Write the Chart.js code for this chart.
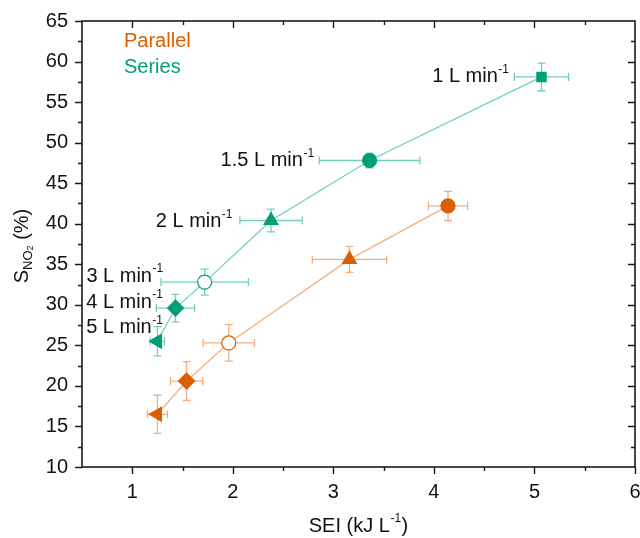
<!DOCTYPE html>
<html>
<head>
<meta charset="utf-8">
<script src="https://cdn.jsdelivr.net/npm/chart.js@4/dist/chart.umd.min.js"></script>
<style>
html,body{margin:0;padding:0;background:#fff;}
#wrap{width:640px;height:538px;position:relative;}
</style>
</head>
<body>
<div id="wrap"><canvas id="c" width="640" height="538"></canvas></div>
<script>
// ---- data ----
const flowLabels = ['1 L min', '1.5 L min', '2 L min', '3 L min', '4 L min', '5 L min'];
const seriesSEI    = [5.07, 3.36, 2.38, 1.72, 1.43, 1.25];
const seriesSEIErr = [0.27, 0.50, 0.31, 0.435, 0.19, 0.07];
const seriesS      = [58.1, 47.8, 40.4, 32.8, 29.6, 25.5];
const seriesSErr   = [1.7, 0.9, 1.4, 1.6, 1.7, 1.8];
// parallel: flows 1.5 ... 5 L/min
const parallelSEI    = [4.14, 3.16, 1.96, 1.54, 1.25];
const parallelSEIErr = [0.195, 0.37, 0.255, 0.16, 0.10];
const parallelS      = [42.2, 35.6, 25.3, 20.6, 16.5];
const parallelSErr   = [1.8, 1.6, 2.25, 2.4, 2.35];
const xTicks = [1, 2, 3, 4, 5, 6];

// ---- styles ----
const GREEN = '#00a077', GREEN_L = 'rgba(0,170,125,0.55)';
const ORANGE = '#d95f02', ORANGE_L = 'rgba(230,110,30,0.55)';
const seriesStyles = ['rect', 'circle', 'triangle', 'circle', 'rectRot', 'triangle'];
const seriesRot = [0, 0, 0, 0, 0, -90];
const seriesFill = [GREEN, GREEN, GREEN, '#ffffff', GREEN, GREEN];
const seriesRad = [6.5, 7, 8, 7, 8, 8];
const parStyles = ['circle', 'triangle', 'circle', 'rectRot', 'triangle'];
const parRot = [0, 0, 0, 0, -90];
const parFill = [ORANGE, ORANGE, '#ffffff', ORANGE, ORANGE];
const parRad = [7, 8, 7, 8, 8];
// label placement offsets (px) relative to series points: [dx to right edge, dy]
const labelOffsets = [[-33, 0], [-56, 0], [-39, 1], [-42, -6], [-13, -6], [5, -14]];

const FONT = "'Liberation Sans', Arial, sans-serif";

function pts(xs, ys) { return xs.map((x, i) => ({x: x, y: ys[i]})); }

const errPlugin = {
  id: 'err',
  beforeDatasetsDraw(chart) {
    const ctx = chart.ctx, xs = chart.scales.x, ys = chart.scales.y;
    const sets = [
      [parallelSEI, parallelS, parallelSEIErr, parallelSErr, ORANGE_L],
      [seriesSEI, seriesS, seriesSEIErr, seriesSErr, GREEN_L]
    ];
    const cap = 4;
    ctx.save();
    ctx.lineWidth = 1.3;
    sets.forEach(([X, Y, EX, EY, col]) => {
      ctx.strokeStyle = col;
      X.forEach((x, i) => {
        const px = xs.getPixelForValue(x), py = ys.getPixelForValue(Y[i]);
        const xl = xs.getPixelForValue(x - EX[i]), xr = xs.getPixelForValue(x + EX[i]);
        const yt = ys.getPixelForValue(Y[i] + EY[i]), yb = ys.getPixelForValue(Y[i] - EY[i]);
        ctx.beginPath();
        ctx.moveTo(xl, py); ctx.lineTo(xr, py);
        ctx.moveTo(xl, py - cap); ctx.lineTo(xl, py + cap);
        ctx.moveTo(xr, py - cap); ctx.lineTo(xr, py + cap);
        ctx.moveTo(px, yt); ctx.lineTo(px, yb);
        ctx.moveTo(px - cap, yt); ctx.lineTo(px + cap, yt);
        ctx.moveTo(px - cap, yb); ctx.lineTo(px + cap, yb);
        ctx.stroke();
      });
    });
    ctx.restore();
  }
};

function drawSup(ctx, base, sup, xRight, yMid, size) {
  ctx.font = size + 'px ' + FONT;
  const wb = ctx.measureText(base).width;
  ctx.font = Math.round(size * 0.6) + 'px ' + FONT;
  const ws = ctx.measureText(sup).width;
  const x0 = xRight - wb - ws;
  ctx.textBaseline = 'middle';
  ctx.textAlign = 'left';
  ctx.font = size + 'px ' + FONT;
  ctx.fillText(base, x0, yMid);
  ctx.font = Math.round(size * 0.6) + 'px ' + FONT;
  ctx.fillText(sup, x0 + wb + 0.5, yMid - size * 0.35);
}

const framePlugin = {
  id: 'frame',
  afterDraw(chart) {
    const ctx = chart.ctx, a = chart.chartArea, xs = chart.scales.x, ys = chart.scales.y;
    ctx.save();
    ctx.strokeStyle = '#1a1a1a';
    ctx.lineWidth = 1.6;
    ctx.strokeRect(a.left, a.top, a.right - a.left, a.bottom - a.top);
    const MAJ = 7, MIN = 4;
    ctx.lineWidth = 1.4;
    ctx.beginPath();
    for (let v = 0.5; v <= 6.0001; v += 0.5) {
      const px = Math.round(xs.getPixelForValue(v)) + 0.5;
      const major = Math.abs(v - Math.round(v)) < 1e-6;
      const L = major ? MAJ : MIN;
      if (v > 0.5 + 1e-6 && v < 6 - 1e-6) {
        ctx.moveTo(px, a.bottom); ctx.lineTo(px, a.bottom + L);
        ctx.moveTo(px, a.top); ctx.lineTo(px, a.top + L);
      } else if (v >= 6 - 1e-6) {
        ctx.moveTo(px, a.bottom); ctx.lineTo(px, a.bottom + L);
      }
    }
    for (let v = 10; v <= 65.0001; v += 2.5) {
      const py = Math.round(ys.getPixelForValue(v)) + 0.5;
      const major = Math.abs(v / 5 - Math.round(v / 5)) < 1e-6;
      const L = major ? MAJ : MIN;
      ctx.moveTo(a.left, py); ctx.lineTo(a.left - L, py);
      if (v > 10 + 1e-6 && v < 65 - 1e-6) {
        ctx.moveTo(a.right, py); ctx.lineTo(a.right - L, py);
      }
    }
    ctx.stroke();

    // flow labels
    ctx.fillStyle = '#111';
    flowLabels.forEach((t, i) => {
      const cx = xs.getPixelForValue(seriesSEI[i]);
      const py = ys.getPixelForValue(seriesS[i]);
      drawSup(ctx, t, '-1', cx + labelOffsets[i][0], py + labelOffsets[i][1], 20);
    });

    // legend text
    ctx.font = '20px ' + FONT;
    ctx.textAlign = 'left';
    ctx.textBaseline = 'middle';
    ctx.fillStyle = ORANGE;
    ctx.fillText('Parallel', a.left + 42, a.top + 20);
    ctx.fillStyle = GREEN;
    ctx.fillText('Series', a.left + 42, a.top + 46);

    // x title
    ctx.fillStyle = '#111';
    const xt1 = 'SEI (kJ L', xt2 = '-1', xt3 = ')';
    ctx.font = '20px ' + FONT;
    const w1 = ctx.measureText(xt1).width, w3 = ctx.measureText(xt3).width;
    ctx.font = '12px ' + FONT;
    const w2 = ctx.measureText(xt2).width;
    let x0 = (a.left + a.right) / 2 - (w1 + w2 + w3 + 1) / 2;
    const yT = 526;
    ctx.font = '20px ' + FONT; ctx.fillText(xt1, x0, yT);
    ctx.font = '12px ' + FONT; ctx.fillText(xt2, x0 + w1 + 0.5, yT - 7);
    ctx.font = '20px ' + FONT; ctx.fillText(xt3, x0 + w1 + w2 + 1, yT);

    // y title (rotated)
    ctx.save();
    ctx.translate(22, (a.top + a.bottom) / 2 + 2);
    ctx.rotate(-Math.PI / 2);
    const parts = [['S', 20, 0], ['NO', 13, 6], ['2', 9, 9], [' (%)', 20, 0]];
    let tot = 0;
    parts.forEach(p => { ctx.font = p[1] + 'px ' + FONT; tot += ctx.measureText(p[0]).width; });
    let cx = -tot / 2;
    ctx.textBaseline = 'middle';
    parts.forEach(p => {
      ctx.font = p[1] + 'px ' + FONT;
      ctx.fillText(p[0], cx, p[2]);
      cx += ctx.measureText(p[0]).width;
    });
    ctx.restore();
    ctx.restore();
  }
};

new Chart(document.getElementById('c'), {
  type: 'scatter',
  data: {
    datasets: [
      {
        label: 'Parallel',
        data: pts(parallelSEI, parallelS),
        showLine: true,
        borderColor: ORANGE_L,
        borderWidth: 1.3,
        pointStyle: parStyles,
        rotation: parRot,
        pointRadius: parRad,
        pointBackgroundColor: parFill,
        pointBorderColor: ORANGE,
        pointBorderWidth: 1.2
      },
      {
        label: 'Series',
        data: pts(seriesSEI, seriesS),
        showLine: true,
        borderColor: GREEN_L,
        borderWidth: 1.3,
        pointStyle: seriesStyles,
        rotation: seriesRot,
        pointRadius: seriesRad,
        pointBackgroundColor: seriesFill,
        pointBorderColor: GREEN,
        pointBorderWidth: 1.2
      }
    ]
  },
  options: {
    responsive: false,
    animation: false,
    events: [],
    layout: { autoPadding: false, padding: { top: 21, right: 5, left: 0, bottom: 0 } },
    plugins: { legend: { display: false }, tooltip: { enabled: false } },
    scales: {
      x: {
        type: 'linear', min: 0.5, max: 6,
        grid: { display: false, drawTicks: false },
        border: { display: false },
        afterBuildTicks: s => { s.ticks = xTicks.map(v => ({value: v})); },
        afterFit: s => { s.height = 71; s.paddingRight = 0; s.paddingLeft = 0; },
        ticks: { color: '#111', font: { family: FONT, size: 20 }, padding: 13, maxRotation: 0 }
      },
      y: {
        type: 'linear', min: 10, max: 65,
        grid: { display: false, drawTicks: false },
        border: { display: false },
        afterFit: s => { s.width = 82; s.paddingTop = 0; s.paddingBottom = 0; },
        ticks: { stepSize: 5, color: '#111', font: { family: FONT, size: 20 }, padding: 14 }
      }
    }
  },
  plugins: [errPlugin, framePlugin]
});
</script>
</body>
</html>
